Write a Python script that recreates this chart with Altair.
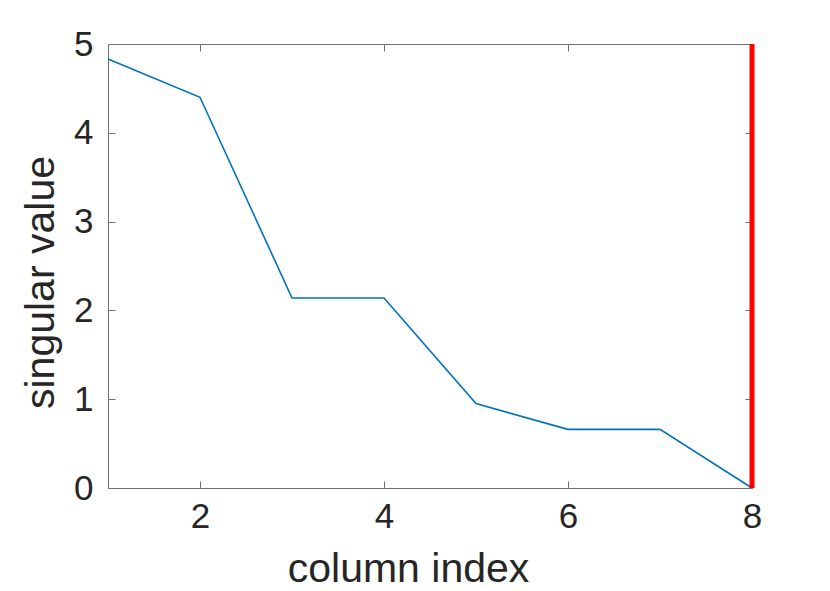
import altair as alt
import pandas as pd

column_index = [1, 2, 3, 4, 5, 6, 7, 8]
singular_value = [4.83, 4.40, 2.14, 2.14, 0.95, 0.66, 0.66, 0.0]
red_x = [8]
red_y = [0]
red_y2 = [5]
x_ticks = [2, 4, 6, 8]
y_ticks = [0, 1, 2, 3, 4, 5]

df = pd.DataFrame({"x": column_index, "y": singular_value})
rdf = pd.DataFrame({"x": red_x, "y": red_y, "y2": red_y2})

FONT = "Liberation Sans"
AX = "#707070"
TXT = "#262626"

xscale = alt.Scale(domain=[1, 8], nice=False, zero=False)
yscale = alt.Scale(domain=[0, 5], nice=False, zero=False)

line = alt.Chart(df).mark_line(color="#0072BD", strokeWidth=1.6).encode(
    x=alt.X("x:Q", scale=xscale, axis=alt.Axis(
        orient="bottom", values=x_ticks, offset=-7, tickSize=7, domain=False,
        tickColor=AX, labelFontSize=35, labelColor=TXT, labelFont=FONT,
        labelPadding=11, labelFlush=False, labelOverlap=False, grid=False,
        title="column index", titleFontSize=41,
        titleFont=FONT, titleColor=TXT, titleFontWeight="normal",
        titleX=300, titleY=100, titleBaseline="alphabetic", titleAlign="center",
        titleAnchor="start")),
    y=alt.Y("y:Q", scale=yscale, axis=alt.Axis(
        orient="left", values=y_ticks, offset=-7, tickSize=7, domain=False,
        tickColor=AX, labelFontSize=35, labelColor=TXT, labelFont=FONT,
        labelPadding=15, labelFlush=False, labelOverlap=False, grid=False,
        title="singular value", titleFontSize=41,
        titleFont=FONT, titleColor=TXT, titleFontWeight="normal",
        titleX=-62, titleY=238, titleAngle=-90, titleBaseline="alphabetic",
        titleAlign="center", titleAnchor="start")),
)

red = alt.Chart(rdf).mark_rule(color="#FF0000", strokeWidth=5).encode(
    x=alt.X("x:Q", scale=xscale, axis=alt.Axis(
        orient="top", values=x_ticks, offset=-7, tickSize=7, domain=False,
        tickColor=AX, labels=False, grid=False, title=None)),
    y=alt.Y("y:Q", scale=yscale, axis=alt.Axis(
        orient="right", values=y_ticks, offset=-7, tickSize=7, domain=False,
        tickColor=AX, labels=False, grid=False, title=None)),
    y2="y2:Q",
)

chart = alt.layer(line, red).resolve_axis(x="independent", y="independent").properties(
    width=644, height=444,
    autosize=alt.AutoSizeParams(type="none"),
    padding={"left": 100, "top": 36, "right": 70, "bottom": 95},
    background="white",
).configure_view(stroke=AX, strokeWidth=1)

chart.save("out.html", embed_options={"renderer": "svg", "actions": False})
